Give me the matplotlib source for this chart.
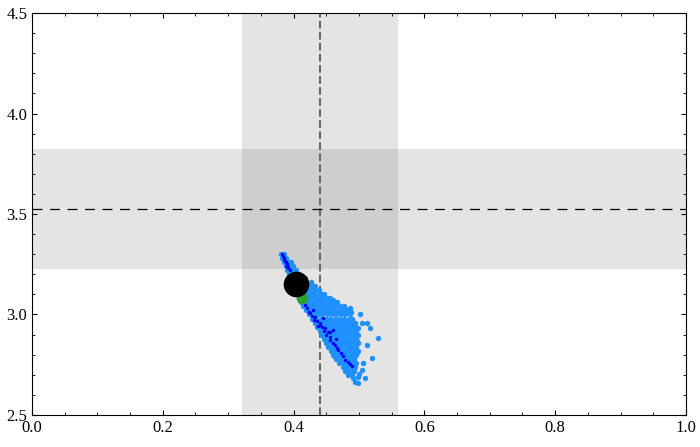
import matplotlib
matplotlib.use("Agg")
import matplotlib.pyplot as plt
from matplotlib.ticker import MultipleLocator

plt.rcParams['font.family'] = ['Liberation Serif', 'DejaVu Serif']

# reference values and 1-sigma ranges
x_ref, x_lo, x_hi = 0.44, 0.321, 0.560
y_ref, y_lo, y_hi = 3.523, 3.225, 3.823

# sample cloud (light blue), read row by row
light_x = [
    0.381, 0.386,
    0.383, 0.389,
    0.385, 0.391, 0.396,
    0.388, 0.394, 0.399,
    0.390, 0.397, 0.404,
    0.393, 0.400, 0.408,
    0.395, 0.402, 0.410, 0.417,
    0.398, 0.405, 0.412, 0.419, 0.426,
    0.401, 0.408, 0.415, 0.422, 0.429, 0.433,
    0.404, 0.411, 0.418, 0.425, 0.432, 0.439,
    0.407, 0.414, 0.421, 0.428, 0.435, 0.442, 0.447,
    0.409, 0.416, 0.423, 0.430, 0.437, 0.444, 0.451, 0.456,
    0.412, 0.419, 0.426, 0.433, 0.440, 0.447, 0.454, 0.461, 0.466,
    0.415, 0.422, 0.429, 0.436, 0.443, 0.450, 0.457, 0.464, 0.471, 0.477,
    0.419, 0.426, 0.433, 0.440, 0.447, 0.454, 0.461, 0.468, 0.475, 0.482,
    0.423, 0.430, 0.437, 0.444, 0.451, 0.458, 0.465, 0.472, 0.479, 0.486,
    0.428, 0.435, 0.442, 0.449, 0.456, 0.463, 0.470, 0.477, 0.484, 0.490,
    0.432, 0.439, 0.446, 0.453, 0.460, 0.467, 0.474, 0.481, 0.488, 0.494,
    0.436, 0.443, 0.450, 0.457, 0.464, 0.471, 0.478, 0.485, 0.492,
    0.440, 0.447, 0.454, 0.461, 0.468, 0.475, 0.482, 0.489, 0.496,
    0.444, 0.451, 0.458, 0.465, 0.472, 0.479, 0.486, 0.493, 0.498,
    0.447, 0.454, 0.461, 0.468, 0.475, 0.482, 0.489, 0.496,
    0.450, 0.457, 0.464, 0.471, 0.478, 0.485, 0.492, 0.498,
    0.453, 0.460, 0.467, 0.474, 0.481, 0.488, 0.495,
    0.457, 0.464, 0.471, 0.478, 0.485, 0.492, 0.498,
    0.461, 0.468, 0.475, 0.482, 0.489, 0.496,
    0.465, 0.472, 0.479, 0.486, 0.493,
    0.470, 0.477, 0.484, 0.491, 0.496,
    0.475, 0.482, 0.489, 0.494,
    0.478, 0.485, 0.492,
    0.483, 0.490,
    # in-between rows
    0.404, 0.411, 0.418, 0.425, 0.430,
    0.414, 0.421, 0.428, 0.435, 0.442, 0.449, 0.456, 0.461,
    0.425, 0.432, 0.439, 0.446, 0.453, 0.460, 0.467, 0.474, 0.481, 0.488,
    0.437, 0.444, 0.451, 0.458, 0.465, 0.472, 0.479, 0.486, 0.493,
    0.449, 0.456, 0.463, 0.470, 0.477, 0.484, 0.491, 0.497,
    0.463, 0.470, 0.477, 0.484, 0.491,
    # outliers
    0.529, 0.512, 0.520, 0.506, 0.498, 0.491, 0.505, 0.494, 0.512, 0.517,
    0.499, 0.497, 0.509, 0.499, 0.494, 0.504, 0.502, 0.486, 0.500,
]
light_y = [
    3.30, 3.30,
    3.28, 3.28,
    3.26, 3.26, 3.26,
    3.24, 3.24, 3.24,
    3.22, 3.22, 3.22,
    3.20, 3.20, 3.20,
    3.18, 3.18, 3.18, 3.18,
    3.16, 3.16, 3.16, 3.16, 3.16,
    3.14, 3.14, 3.14, 3.14, 3.14, 3.14,
    3.12, 3.12, 3.12, 3.12, 3.12, 3.12,
    3.10, 3.10, 3.10, 3.10, 3.10, 3.10, 3.10,
    3.08, 3.08, 3.08, 3.08, 3.08, 3.08, 3.08, 3.08,
    3.06, 3.06, 3.06, 3.06, 3.06, 3.06, 3.06, 3.06, 3.06,
    3.04, 3.04, 3.04, 3.04, 3.04, 3.04, 3.04, 3.04, 3.04, 3.04,
    3.02, 3.02, 3.02, 3.02, 3.02, 3.02, 3.02, 3.02, 3.02, 3.02,
    3.00, 3.00, 3.00, 3.00, 3.00, 3.00, 3.00, 3.00, 3.00, 3.00,
    2.98, 2.98, 2.98, 2.98, 2.98, 2.98, 2.98, 2.98, 2.98, 2.98,
    2.96, 2.96, 2.96, 2.96, 2.96, 2.96, 2.96, 2.96, 2.96, 2.96,
    2.94, 2.94, 2.94, 2.94, 2.94, 2.94, 2.94, 2.94, 2.94,
    2.92, 2.92, 2.92, 2.92, 2.92, 2.92, 2.92, 2.92, 2.92,
    2.90, 2.90, 2.90, 2.90, 2.90, 2.90, 2.90, 2.90, 2.90,
    2.88, 2.88, 2.88, 2.88, 2.88, 2.88, 2.88, 2.88,
    2.86, 2.86, 2.86, 2.86, 2.86, 2.86, 2.86, 2.86,
    2.84, 2.84, 2.84, 2.84, 2.84, 2.84, 2.84,
    2.82, 2.82, 2.82, 2.82, 2.82, 2.82, 2.82,
    2.80, 2.80, 2.80, 2.80, 2.80, 2.80,
    2.78, 2.78, 2.78, 2.78, 2.78,
    2.76, 2.76, 2.76, 2.76, 2.76,
    2.74, 2.74, 2.74, 2.74,
    2.72, 2.72, 2.72,
    2.70, 2.70,
    # in-between rows
    3.13, 3.13, 3.13, 3.13, 3.13,
    3.07, 3.07, 3.07, 3.07, 3.07, 3.07, 3.07, 3.07,
    3.01, 3.01, 3.01, 3.01, 3.01, 3.01, 3.01, 3.01, 3.01, 3.01,
    2.95, 2.95, 2.95, 2.95, 2.95, 2.95, 2.95, 2.95, 2.95,
    2.87, 2.87, 2.87, 2.87, 2.87, 2.87, 2.87, 2.87,
    2.79, 2.79, 2.79, 2.79, 2.79,
    # outliers
    2.883, 2.848, 2.784, 2.759, 2.659, 2.684, 2.724, 2.958, 2.956, 2.933,
    2.933, 2.815, 2.684, 2.690, 2.666, 2.960, 3.000, 3.030, 2.705,
]

# dark blue subset along the ridge
dark_x = [0.382, 0.384, 0.386, 0.385, 0.387, 0.388, 0.390, 0.389, 0.391, 0.392, 0.394,
          0.413, 0.417, 0.420, 0.424, 0.425, 0.428, 0.433, 0.431, 0.436, 0.440,
          0.438, 0.444, 0.448, 0.446, 0.452, 0.456, 0.450, 0.455, 0.456, 0.460,
          0.463, 0.468, 0.466, 0.472, 0.475, 0.479, 0.483, 0.486, 0.489, 0.440,
          0.445, 0.430, 0.460, 0.465]
dark_y = [3.300, 3.290, 3.280, 3.270, 3.265, 3.260, 3.250, 3.240, 3.235, 3.230, 3.220,
          3.060, 3.047, 3.030, 3.010, 3.007, 2.995, 2.990, 2.975, 2.970, 2.958,
          2.945, 2.940, 2.933, 2.920, 2.915, 2.913, 2.900, 2.890, 2.873, 2.860,
          2.850, 2.823, 2.835, 2.810, 2.795, 2.774, 2.765, 2.752, 2.744, 2.950,
          2.985, 3.020, 2.925, 2.880]

green_x, green_y = [0.413], [3.08]
best_x, best_y = [0.403], [3.152]

fig = plt.figure(figsize=(7, 4.47), dpi=100)
ax = fig.add_axes([0.0457, 0.0716, 0.9343, 0.8993])

ax.axvspan(x_lo, x_hi, color='gray', alpha=0.21, lw=0, zorder=0)
ax.axhspan(y_lo, y_hi, color='gray', alpha=0.21, lw=0, zorder=0)
ax.axvline(x_ref, color='dimgray', ls='--', lw=1.5, zorder=1)
ax.axhline(y_ref, color='black', ls='--', lw=0.9, dashes=(8, 6), zorder=1)

ax.scatter(light_x, light_y, s=15, color='dodgerblue', lw=0, zorder=2)
ax.scatter(dark_x, dark_y, s=6, color='blue', lw=0, zorder=3)
ax.scatter(green_x, green_y, s=70, color='#2ca02c', lw=0, zorder=4)
ax.scatter(best_x, best_y, s=340, color='black', lw=0, zorder=5)

ax.set_xlim(0, 1)
ax.set_ylim(2.5, 4.5)
ax.xaxis.set_major_locator(MultipleLocator(0.2))
ax.xaxis.set_minor_locator(MultipleLocator(0.05))
ax.yaxis.set_major_locator(MultipleLocator(0.5))
ax.yaxis.set_minor_locator(MultipleLocator(0.1))
ax.tick_params(which='both', direction='in', top=True, right=True, labelsize=12)
ax.tick_params(which='major', length=3.5, width=0.8)
ax.tick_params(which='minor', length=2, width=0.6)

fig.savefig('out.png', dpi=100)
